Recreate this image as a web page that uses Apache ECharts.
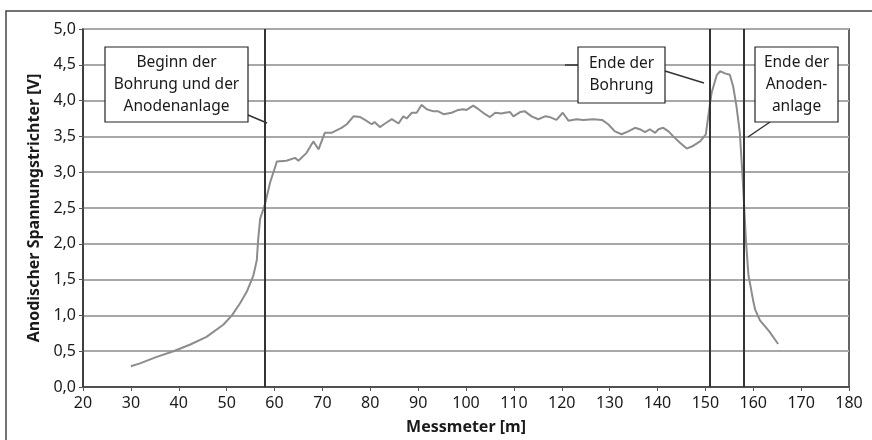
<!DOCTYPE html>
<html>
<head>
<meta charset="utf-8">
<script src="https://cdn.jsdelivr.net/npm/echarts@6/dist/echarts.min.js"></script>
<style>
  html, body { margin: 0; padding: 0; background: #fff; }
  #chart { width: 872px; height: 440px; }
</style>
</head>
<body>
<div id="chart"></div>
<script>
// Messmeter [m]
var meters = [30, 31.9, 35.4, 38.9, 42.3, 45.8, 49.3, 51.1, 52.8, 54.2, 55.6, 56.3, 56.6, 57.0, 57.5, 58.0,
  59.1, 60.5, 62.5, 64.3, 65.0, 66.7, 68.1, 69.2, 70.5, 71.9, 74.0, 75.1, 76.5, 77.9, 78.9, 80.3, 80.9,
  82.0, 83.1, 84.5, 85.9, 86.9, 87.6, 88.7, 89.7, 90.7, 91.8, 93.2, 94.2, 95.3, 97.0, 98.4, 99.4, 100.1,
  101.5, 102.6, 104.0, 105.0, 106.1, 107.4, 108.1, 109.2, 109.9, 111.3, 112.3, 113.7, 115.1, 116.5, 117.5,
  118.9, 120.2, 121.4, 123.1, 124.5, 126.6, 128.4, 129.7, 131.1, 132.5, 133.9, 135.3, 136.3, 137.4, 138.4,
  139.5, 140.2, 141.2, 142.3, 143.3, 144.7, 146.1, 147.5, 148.9, 150.1, 150.6, 151.3, 152.4, 153.1, 154.1,
  155.1, 155.8, 156.5, 157.2, 157.8, 158.5, 159.0, 159.4, 160.0, 160.4, 161.4, 163.3, 165.2];
// Anodischer Spannungstrichter [V]
var volts = [0.29, 0.33, 0.42, 0.50, 0.59, 0.70, 0.87, 1.00, 1.17, 1.33, 1.56, 1.77, 2.07, 2.35, 2.45, 2.55,
  2.86, 3.15, 3.16, 3.20, 3.16, 3.27, 3.43, 3.32, 3.55, 3.55, 3.62, 3.67, 3.78, 3.77, 3.73, 3.67, 3.70,
  3.63, 3.68, 3.74, 3.68, 3.78, 3.75, 3.83, 3.83, 3.94, 3.88, 3.85, 3.85, 3.81, 3.83, 3.87, 3.88, 3.87,
  3.93, 3.88, 3.81, 3.77, 3.83, 3.82, 3.83, 3.84, 3.78, 3.84, 3.85, 3.78, 3.74, 3.78, 3.77,
  3.73, 3.83, 3.72, 3.74, 3.73, 3.74, 3.73, 3.67, 3.57, 3.53, 3.57, 3.62, 3.60, 3.56, 3.60,
  3.55, 3.60, 3.62, 3.57, 3.50, 3.41, 3.33, 3.37, 3.43, 3.53, 3.78, 4.11, 4.36, 4.41, 4.38,
  4.36, 4.20, 3.92, 3.55, 2.90, 2.02, 1.56, 1.42, 1.20, 1.08, 0.93, 0.78, 0.60];
// Markierungen (Beginn Bohrung/Anodenanlage, Ende Bohrung, Ende Anodenanlage)
var markers = [58, 151, 158];

var fontFamily = "'Noto Sans', sans-serif";
var chart = echarts.init(document.getElementById('chart'));

function box(x, y, w, h, text) {
  return {
    type: 'group',
    z: 100,
    children: [
      { type: 'rect', z: 100, shape: { x: x, y: y, width: w, height: h },
        style: { fill: '#fff', stroke: '#222', lineWidth: 1.2 } },
      { type: 'text', z: 101, x: x + w / 2, y: y + h / 2,
        style: { text: text, fill: '#1a1a1a', font: '15.5px ' + fontFamily, lineHeight: 22,
          align: 'center', verticalAlign: 'middle' } }
    ]
  };
}
function lead(x1, y1, x2, y2) {
  return { type: 'line', z: 100, shape: { x1: x1, y1: y1, x2: x2, y2: y2 },
    style: { stroke: '#333', lineWidth: 1.5 } };
}

var option = {
  animation: false,
  grid: { left: 83, top: 29, right: 23, bottom: 51, show: true, borderColor: '#333', borderWidth: 1.5 },
  xAxis: {
    type: 'value', min: 20, max: 180, interval: 10,
    name: 'Messmeter [m]', nameLocation: 'middle', nameGap: 32,
    nameTextStyle: { fontFamily: fontFamily, fontWeight: 'bold', fontSize: 16, color: '#1a1a1a' },
    axisLine: { lineStyle: { color: '#333', width: 1.5 } },
    axisTick: { show: true, length: 4, lineStyle: { color: '#555' } },
    axisLabel: { fontFamily: fontFamily, fontSize: 16, color: '#1a1a1a', margin: 8 },
    splitLine: { show: false }
  },
  yAxis: {
    type: 'value', min: 0, max: 5, interval: 0.5,
    name: 'Anodischer Spannungstrichter [V]', nameLocation: 'middle', nameGap: 40,
    nameTextStyle: { fontFamily: fontFamily, fontWeight: 'bold', fontSize: 16, color: '#1a1a1a' },
    axisLine: { show: true, lineStyle: { color: '#333', width: 1.5 } },
    axisTick: { show: true, length: 4, lineStyle: { color: '#555' } },
    axisLabel: { fontFamily: fontFamily, fontSize: 16, color: '#1a1a1a', margin: 7,
      formatter: function (v) { return v.toFixed(1).replace('.', ','); } },
    splitLine: { show: true, lineStyle: { color: '#a8a8a8', width: 2 } }
  },
  series: [{
    type: 'line',
    data: meters.map(function (m, i) { return [m, volts[i]]; }),
    showSymbol: false,
    lineStyle: { color: '#8c8c8c', width: 2 },
    markLine: {
      silent: true, symbol: 'none', label: { show: false },
      lineStyle: { color: '#333', width: 2, type: 'solid' },
      data: markers.map(function (m) { return { xAxis: m }; })
    }
  }],
  graphic: [
    { type: 'rect', z: -10, shape: { x: 6, y: 11, width: 900, height: 500 },
      style: { fill: 'none', stroke: '#444', lineWidth: 1.5 } },
    lead(248, 115, 267, 123),
    box(105, 47, 143, 75, 'Beginn der\nBohrung und der\nAnodenanlage'),
    lead(565, 65, 578, 65),
    lead(665, 71, 704, 83),
    box(578, 47, 87, 56, 'Ende der\nBohrung'),
    lead(770, 122, 748, 137),
    box(755, 47, 83, 75, 'Ende der\nAnoden-\nanlage')
  ]
};
chart.setOption(option);
</script>
</body>
</html>
